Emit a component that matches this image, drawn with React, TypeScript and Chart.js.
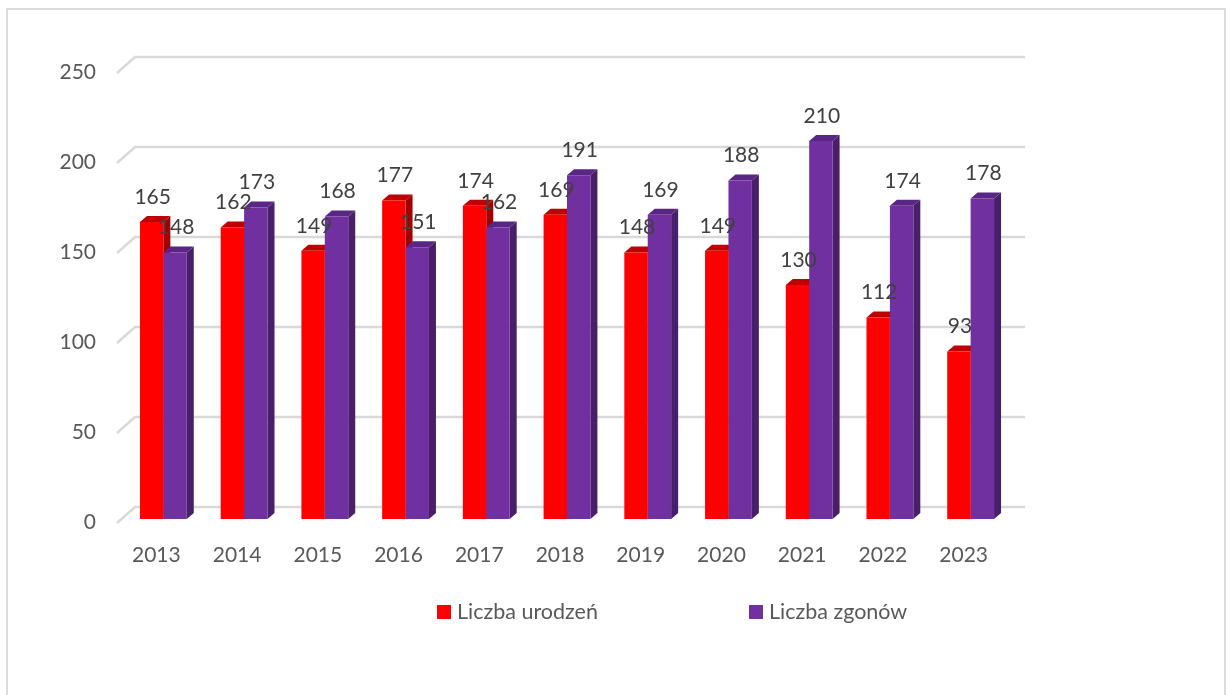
import React, { useEffect, useRef } from "react";
import { Chart, registerables } from "chart.js";

Chart.register(...registerables);

const years = ["2013", "2014", "2015", "2016", "2017", "2018", "2019", "2020", "2021", "2022", "2023"];
const births = [165, 162, 149, 177, 174, 169, 148, 149, 130, 112, 93];
const deaths = [148, 173, 168, 151, 162, 191, 169, 188, 210, 174, 178];
const yTicks = [0, 50, 100, 150, 200, 250];
const seriesNames = ["Liczba urodzeń", "Liczba zgonów"];

const frontColors = ["#ff0000", "#7030a0"];
const topColors = ["#c00000", "#5a2686"];
const sideColors = ["#a00000", "#48206a"];

const FONT = "Lato, 'Open Sans', sans-serif";
const DX = 7;
const DY = 6;

const excel3d = {
  id: "excel3d",
  beforeDatasetsDraw(chart: any) {
    const ctx = chart.ctx as CanvasRenderingContext2D;
    const ys = chart.scales.y;
    const xs = chart.scales.x;
    const area = chart.chartArea;
    ctx.save();
    ctx.strokeStyle = "#d9d9d9";
    ctx.lineWidth = 2.5;
    const fx = area.left - 6;
    yTicks.forEach((v) => {
      const p = ys.getPixelForValue(v);
      ctx.beginPath();
      ctx.moveTo(fx, p + 4);
      ctx.lineTo(fx + 18, p - 12);
      ctx.lineTo(area.right + 14, p - 12);
      ctx.stroke();
    });
    ctx.fillStyle = "#595959";
    ctx.font = `21px ${FONT}`;
    ctx.textAlign = "right";
    ctx.textBaseline = "middle";
    yTicks.forEach((v) => {
      const p = ys.getPixelForValue(v);
      ctx.fillText(String(v), fx - 21, p + 3);
    });
    ctx.textAlign = "center";
    years.forEach((lab, i) => {
      const px = xs.getPixelForValue(i);
      ctx.fillText(lab, px - 7, area.bottom + 36);
    });
    chart.data.datasets.forEach((ds: any, di: number) => {
      const meta = chart.getDatasetMeta(di);
      meta.data.forEach((bar: any) => {
        const { x, y, width, base } = bar.getProps(["x", "y", "width", "base"], true);
        const l = x - width / 2;
        const r = x + width / 2;
        ctx.fillStyle = topColors[di];
        ctx.beginPath();
        ctx.moveTo(l, y);
        ctx.lineTo(l + DX, y - DY);
        ctx.lineTo(r + DX, y - DY);
        ctx.lineTo(r, y);
        ctx.closePath();
        ctx.fill();
        ctx.fillStyle = sideColors[di];
        ctx.beginPath();
        ctx.moveTo(r, y);
        ctx.lineTo(r + DX, y - DY);
        ctx.lineTo(r + DX, base - DY);
        ctx.lineTo(r, base);
        ctx.closePath();
        ctx.fill();
      });
    });
    ctx.restore();
  },
  afterDatasetsDraw(chart: any) {
    const ctx = chart.ctx as CanvasRenderingContext2D;
    ctx.save();
    ctx.fillStyle = "#404040";
    ctx.font = `21px ${FONT}`;
    ctx.textAlign = "center";
    ctx.textBaseline = "middle";
    chart.data.datasets.forEach((ds: any, di: number) => {
      const meta = chart.getDatasetMeta(di);
      meta.data.forEach((bar: any, i: number) => {
        const { x, y } = bar.getProps(["x", "y"], true);
        ctx.fillText(String(ds.data[i]), x + 1, y - 25);
      });
    });
    ctx.font = `21.5px ${FONT}`;
    ctx.textAlign = "left";
    const legendX = [437, 749];
    seriesNames.forEach((name, i) => {
      ctx.fillStyle = frontColors[i];
      ctx.fillRect(legendX[i], 605, 14, 14);
      ctx.fillStyle = "#595959";
      ctx.fillText(name, legendX[i] + 20, 612);
    });
    ctx.restore();
  },
};

export default function App() {
  const ref = useRef<HTMLCanvasElement | null>(null);
  useEffect(() => {
    if (!ref.current) return;
    const chart = new Chart(ref.current, {
      type: "bar",
      data: {
        labels: years,
        datasets: [
          { label: seriesNames[0], data: births, backgroundColor: frontColors[0], borderWidth: 0 },
          { label: seriesNames[1], data: deaths, backgroundColor: frontColors[1], borderWidth: 0 },
        ],
      },
      options: {
        responsive: false,
        animation: false,
        devicePixelRatio: 1,
        categoryPercentage: 0.58,
        barPercentage: 1,
        layout: { padding: { left: 123, right: 215, top: 69, bottom: 176 } },
        scales: {
          x: { display: false, offset: true },
          y: { display: false, min: 0, max: 250 },
        },
        plugins: { legend: { display: false }, tooltip: { enabled: false } },
      } as any,
      plugins: [excel3d],
    });
    return () => chart.destroy();
  }, []);
  return (
    <div style={{ position: "fixed", left: 0, top: 0, width: 1226, height: 695, overflow: "hidden", background: "#fff" }}>
      <div
        style={{
          position: "absolute",
          left: 6,
          top: 8,
          width: 1220,
          height: 720,
          boxSizing: "border-box",
          border: "2px solid #dcdcdc",
        }}
      />
      <canvas ref={ref} width={1226} height={695} style={{ position: "absolute", left: 0, top: 0 }} />
    </div>
  );
}
